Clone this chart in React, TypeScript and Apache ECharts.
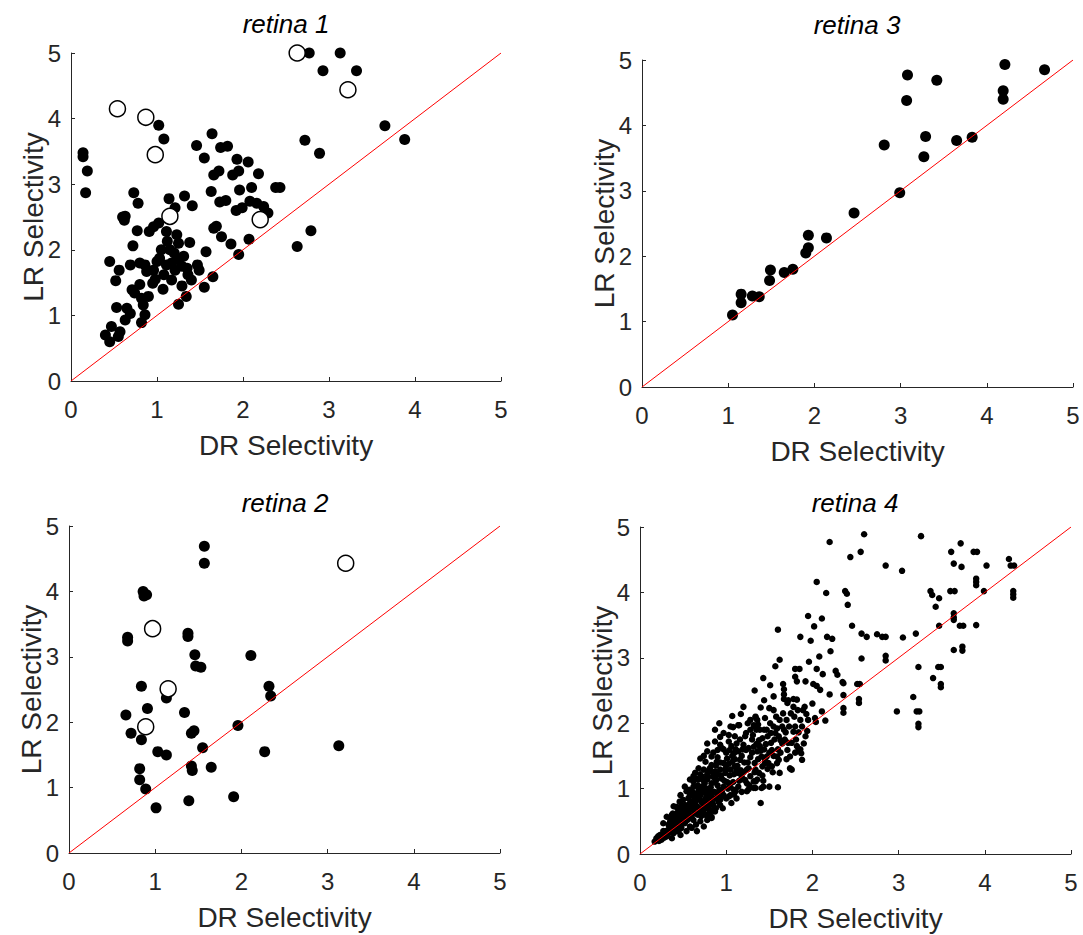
import React, { useEffect, useRef } from "react";
import * as echarts from "echarts";

// ---------- data ----------
const tickValues = [0, 1, 2, 3, 4, 5];
const diagonal = [[0, 0], [5, 5]];
const panelTitles = ["retina 1", "retina 3", "retina 2", "retina 4"];
const xName = "DR Selectivity";
const yName = "LR Selectivity";

const retina1Filled = [
  [2.77,5.0],[3.13,5.0],[2.93,4.73],[3.32,4.73],[3.65,3.89],[3.88,3.68],[2.72,3.67],[2.89,3.47],[2.43,2.95],[2.79,2.29],[2.63,2.05],
  [0.14,3.48],[0.14,3.42],[0.19,3.2],[0.17,2.87],[1.02,3.9],[1.08,3.69],[1.46,3.59],[1.64,3.77],[1.55,3.40],[1.74,3.56],[1.82,3.58],
  [1.93,3.38],[2.06,3.34],[1.66,3.14],[1.72,3.2],[1.88,3.14],[1.95,3.2],[2.18,3.16],[2.38,2.95],[2.10,2.95],[1.96,2.91],[1.63,2.89],
  [1.73,2.73],[1.80,2.75],[1.92,2.60],[1.99,2.64],[2.08,2.74],[2.16,2.71],[2.24,2.66],[2.29,2.56],[0.73,2.87],[0.78,2.71],[1.14,2.78],
  [1.21,2.64],[1.32,2.82],[1.41,2.67],[0.63,2.51],[0.60,2.50],[0.62,2.45],[0.77,2.29],[0.91,2.28],[1.02,2.41],[0.96,2.35],[1.11,2.28],
  [1.12,2.13],[1.23,2.23],[1.25,2.10],[1.38,2.11],[1.66,2.33],[1.69,2.36],[1.75,2.20],[1.86,2.09],[2.07,2.16],[1.95,1.93],[1.57,1.97],
  [0.72,2.06],[0.45,1.82],[0.56,1.69],[0.52,1.53],[0.69,1.77],[0.80,1.80],[0.86,1.77],[0.88,1.67],[0.96,1.69],[1.00,1.82],[1.03,1.87],
  [1.11,1.77],[1.17,1.80],[1.21,1.69],[1.25,1.85],[1.31,1.90],[1.29,1.75],[1.35,1.72],[1.36,1.62],[1.40,1.54],[1.47,1.77],[1.49,1.69],
  [1.65,1.59],[1.55,1.43],[1.17,1.54],[1.07,1.40],[1.29,1.45],[1.34,1.29],[1.25,1.17],[0.95,1.49],[0.71,1.39],[0.74,1.34],[0.80,1.47],
  [0.82,1.26],[0.84,1.16],[0.90,1.29],[0.53,1.12],[0.65,1.11],[0.69,1.03],[0.63,0.93],[0.86,1.01],[0.82,0.89],[0.40,0.70],[0.47,0.83],
  [0.45,0.60],[0.57,0.75],[0.55,0.68],[1.05,2.0],[1.15,2.0],[1.2,1.95],[1.08,1.62],[0.98,1.55]
];
const retina1Open = [[0.54,4.15],[0.87,4.02],[0.98,3.45],[1.15,2.51],[2.2,2.46],[2.63,5.0],[3.22,4.44]];

const retina3Filled = [
  [1.05,1.10],[1.15,1.42],[1.15,1.29],[1.28,1.39],[1.36,1.38],[1.49,1.79],[1.48,1.63],[1.65,1.75],[1.75,1.80],[1.93,2.32],[1.93,2.13],
  [1.90,2.05],[2.14,2.28],[2.46,2.66],[2.81,3.70],[2.99,2.97],[3.08,4.77],[3.07,4.38],[3.42,4.69],[3.29,3.83],[3.27,3.52],[3.65,3.77],
  [3.83,3.82],[4.21,4.93],[4.19,4.53],[4.19,4.40],[4.67,4.85]
];

const retina2Filled = [
  [1.57,4.69],[1.57,4.43],[0.86,4.0],[0.90,3.95],[0.87,3.93],[0.68,3.30],[0.68,3.24],[1.38,3.36],[1.38,3.31],[1.46,3.03],[1.47,2.86],
  [1.53,2.84],[2.11,3.02],[2.32,2.55],[0.84,2.55],[1.13,2.37],[2.34,2.40],[0.91,2.21],[0.66,2.11],[1.34,2.15],[0.72,1.83],[0.84,1.73],
  [1.42,1.83],[1.45,1.87],[1.96,1.95],[1.55,1.61],[1.03,1.55],[1.13,1.50],[2.27,1.55],[0.82,1.29],[0.82,1.12],[1.42,1.33],[1.43,1.26],
  [1.65,1.31],[0.89,0.98],[1.01,0.69],[1.39,0.80],[1.91,0.86],[3.13,1.64]
];
const retina2Open = [[0.97,3.43],[1.15,2.51],[0.89,1.93],[3.21,4.43]];

const retina4Filled = [
  [2.60,4.89],[3.26,4.86],[2.56,4.62],[2.44,4.54],[2.85,4.41],[3.04,4.33],[3.72,4.75],[3.61,4.62],[3.87,4.62],[3.91,4.62],[3.64,4.44],
  [3.73,4.39],[4.02,4.41],[4.28,4.51],[4.30,4.41],[4.34,4.41],[3.90,4.21],[3.90,4.16],[3.90,4.11],[3.37,4.02],[3.39,3.96],[3.47,3.91],
  [3.43,3.78],[3.60,4.02],[3.65,4.02],[3.99,4.02],[4.33,4.02],[4.33,3.97],[4.33,3.92],[3.64,3.68],[3.64,3.62],[3.64,3.58],[3.47,3.49],
  [3.71,3.49],[3.75,3.49],[3.90,3.50],[2.46,3.49],[2.57,3.37],[2.63,3.32],[2.75,3.36],[2.81,3.32],[2.85,3.32],[3.05,3.31],[3.20,3.37],
  [3.64,3.12],[3.74,3.17],[3.74,3.11],[2.57,2.99],[2.85,3.03],[2.85,2.96],[3.23,2.86],[3.46,2.86],[3.49,2.86],[3.40,2.69],[3.49,2.60],
  [3.49,2.55],[2.52,2.60],[2.55,2.60],[2.54,2.37],[2.54,2.31],[3.17,2.40],[2.98,2.18],[3.21,2.18],[3.24,2.18],[3.23,1.99],[3.23,1.94],
  [2.20,4.77],[2.05,4.16],[2.16,3.99],[2.38,4.02],[2.40,3.98],[2.41,3.81],[1.95,3.64],[2.11,3.60],[2.02,3.48],[1.86,3.32],[1.98,3.26],
  [2.17,3.32],[2.23,3.29],[2.21,3.10],[1.60,3.43],[2.08,3.02],[1.96,2.94],[1.62,2.97],[1.57,2.87],[1.80,2.83],[1.85,2.83],[2.05,2.83],
  [2.12,2.75],[2.27,2.80],[2.29,2.74],[2.35,2.63],[2.36,2.61],[1.80,2.71],[1.82,2.64],[1.92,2.64],[2.01,2.60],[2.05,2.57],[2.09,2.51],
  [2.20,2.44],[2.36,2.43],[2.36,2.23],[2.36,2.16],[2.11,2.18],[2.15,2.04],[2.03,2.08],[2.04,2.02],[1.89,2.20],[1.93,2.14],[1.78,2.37],
  [1.82,2.36],[1.72,2.35],[1.67,2.37],[1.71,2.31],[1.78,2.25],[1.55,2.41],[1.66,2.60],[1.67,2.52],[1.44,2.35],[1.50,2.23],[1.43,2.69],
  [1.33,2.50],[1.40,2.24],[1.51,2.58],[1.67,2.44],[0.92,2.00],[1.07,2.11],[1.17,2.14],[1.08,1.94],[1.14,1.97],[1.28,2.05],[1.34,2.09],
  [1.36,2.05],[1.33,1.95],[1.39,1.90],[1.47,1.90],[1.42,1.77],[1.51,2.00],[1.55,1.95],[1.59,1.92],[1.65,1.95],[1.67,1.90],[1.69,1.86],
  [1.78,1.87],[1.84,1.86],[1.90,1.69],[1.84,1.59],[1.87,1.54],[1.88,1.44],[1.82,1.65],[1.86,1.60],[1.63,1.74],[1.65,1.69],[1.71,1.59],
  [1.74,1.49],[1.74,1.31],[1.76,1.29],[1.59,1.49],[1.59,1.39],[1.61,1.44],[1.62,1.24],[1.60,1.02],[1.50,1.03],[1.43,1.12],[1.43,1.03],
  [1.40,0.78],[1.32,1.11],[1.34,1.01],[1.26,0.99],[1.24,0.96],[1.24,1.08],[1.14,1.24],[1.18,1.18],[1.22,1.13],[1.26,1.31],[1.33,1.39],
  [1.34,1.29],[1.38,1.24],[1.42,1.34],[1.45,1.44],[1.47,1.49],[1.49,1.39],[1.53,1.59],[1.53,1.34],[1.11,0.96],[1.09,0.91],[1.03,0.88],
  [0.91,0.80],[0.93,0.75],[0.81,0.65],[0.83,0.57],[0.78,0.58],
  [1.15,1.97],[1.05,1.95],[0.78,1.69],[0.87,1.72],[0.93,1.67],[0.90,1.59],[0.97,1.60],[1.03,1.72],[1.04,1.59],[1.09,1.54],[1.12,1.69],
  [1.14,1.57],[1.20,1.67],[1.23,1.59],[1.16,1.44],[1.07,1.41],[1.01,1.46],[0.97,1.39],[0.89,1.41],[0.83,1.36],[0.76,1.41],[0.74,1.29],
  [0.81,1.31],[0.87,1.26],[0.93,1.29],[0.99,1.24],[1.05,1.29],[1.10,1.34],[1.34,2.10],[1.32,1.97],[1.28,1.90],[1.35,1.90],[1.38,1.74],
  [1.32,1.64],[1.36,1.57],[1.41,1.49],[1.45,1.39],[1.24,1.29],[1.28,1.19],[1.34,1.11],[1.32,1.01],[1.41,1.01],[1.36,1.14],[1.20,1.14],
  [1.14,1.03],[1.09,0.98],[1.05,0.90],[1.03,1.08],[0.97,1.03],[0.64,1.24],[0.58,1.14],[0.68,1.14],[0.62,1.03],[0.72,1.03],[0.78,1.14],
  [0.83,1.08],[0.89,1.14],[0.79,0.98],[0.70,0.90],[0.76,0.85],[0.83,0.88],[0.89,0.93],[0.93,0.83],[0.85,0.75],[0.78,0.73],[0.72,0.78],
  [0.64,0.83],[0.58,0.90],[0.54,0.96],[0.50,0.83],[0.56,0.75],[0.62,0.68],[0.68,0.63],[0.76,0.60],[0.81,0.63],[0.78,0.52],[0.70,0.50],
  [0.62,0.52],[0.56,0.57],[0.50,0.63],[0.45,0.68],[0.39,0.73],[0.47,0.52],[0.52,0.47],[0.58,0.42],[0.48,0.40],[0.41,0.42],[0.35,0.50],
  [0.31,0.57],[0.27,0.47],[0.33,0.37],[0.39,0.32],[0.29,0.32],[0.23,0.29],[0.19,0.24],[0.25,0.22],[0.17,0.19],[0.31,0.27],[0.43,0.35],
  [0.54,0.35],[0.60,0.40],[0.47,0.29],[0.37,0.24],[0.83,1.49],[0.78,1.57],[0.70,1.46],[0.68,1.31],[0.62,1.19],[1.03,1.82],[0.93,1.79],
  [0.21,0.27],[0.27,0.35],[0.34,0.42],[0.43,0.47],[0.48,0.57],[0.37,0.60],[0.43,0.63],[0.54,0.70],[0.48,0.75],[0.60,0.80],[0.66,0.73],
  [0.74,0.68],[0.68,0.98],[0.76,0.93],[0.62,1.11],[0.52,1.03],[0.47,0.90],[0.81,0.83],[0.87,0.65],[0.83,0.55],[0.74,0.42],[0.66,0.35],
  [0.20,0.22],[0.22,0.20],[0.24,0.26],[0.26,0.30],[0.28,0.25],[0.30,0.35],[0.32,0.30],[0.33,0.45],[0.35,0.38],[0.36,0.33],[0.38,0.45],
  [0.40,0.38],[0.40,0.52],[0.42,0.55],[0.44,0.44],[0.45,0.60],[0.46,0.38],[0.49,0.48],[0.50,0.70],[0.51,0.56],[0.53,0.62],[0.55,0.52],
  [0.56,0.85],[0.57,0.66],[0.59,0.58],[0.60,0.72],[0.61,0.95],[0.63,0.62],[0.64,0.78],[0.65,0.45],[0.66,0.88],[0.67,1.05],[0.69,0.70],
  [0.70,0.82],[0.71,0.58],[0.72,1.18],[0.73,0.95],[0.75,0.72],[0.75,1.08],[0.77,0.80],[0.78,1.22],[0.79,0.90],[0.80,0.68],[0.82,1.02],
  [0.84,0.78],[0.85,1.18],[0.86,0.95],[0.88,0.70],[0.88,1.35],[0.90,1.05],[0.91,0.88],[0.94,1.20],[0.95,0.95],[0.96,0.70],[0.98,1.12],
  [1.00,0.85],[1.00,1.35],[1.02,1.00],[1.04,1.20],[1.06,0.78],[1.08,1.10],[1.10,1.45],[1.12,0.85],[1.12,1.28],[1.15,1.12],[1.18,1.50],
  [1.18,0.95],[1.20,1.25],[1.22,1.80],[1.25,1.40],[1.27,1.05],[1.30,1.55],[1.30,1.75],[1.37,1.45],[1.39,1.65],[1.44,1.60],[1.48,1.80],
  [1.52,1.70],[1.55,1.50],[1.57,1.85],[1.60,1.60],[1.62,2.05],[1.70,2.05],[1.72,1.70],[1.75,2.15],[1.80,1.55],[1.80,1.95],[1.86,2.05],
  [1.92,1.80],[1.95,2.05],[2.00,2.30],[0.35,0.55],[0.38,0.62],[0.42,0.72],[0.46,0.80],[0.52,0.75],[0.57,0.98],[0.62,0.88],[0.66,1.15],
  [0.70,1.22],[0.74,1.50],[0.80,1.28],[0.85,1.55],[0.90,1.48],[0.95,1.62],[1.00,1.55],[1.06,1.65],[1.10,1.80],[0.97,1.85],[0.87,1.90],
  [1.25,2.00],[1.20,2.25],[1.45,2.08],[1.55,2.20],
  [0.55,0.62],[0.58,0.78],[0.60,0.55],[0.63,0.70],[0.65,0.92],[0.67,0.60],[0.69,0.85],[0.71,0.98],[0.73,0.66],[0.74,1.12],[0.76,0.77],
  [0.77,1.00],[0.79,1.18],[0.80,0.75],[0.82,0.95],[0.84,1.25],[0.85,0.68],[0.87,1.10],[0.88,0.85],[0.90,1.22],[0.92,0.98],[0.93,1.40],
  [0.95,1.15],[0.97,0.90],[0.99,1.30],[1.01,1.10],[1.03,1.38],[1.05,1.02],[1.07,1.50],[1.09,1.22],[1.11,1.60],[1.13,1.35],[1.16,1.75],
  [1.17,1.28],[1.19,1.60],[1.21,1.40],[1.23,1.85],[1.26,1.62],[1.28,1.48],[1.31,1.82],[1.33,1.25],[1.35,1.68],[1.37,1.98],[1.40,1.58],
  [1.42,1.20],[1.44,1.90],[1.46,1.68],[1.48,1.30],[1.50,1.55],[1.52,1.85],[1.54,1.25],[1.56,1.75],[1.58,2.10],[1.61,1.80],[1.63,1.55],
  [1.66,2.15],[1.68,1.75],[1.70,1.45],[1.73,1.95],[1.76,1.70],[1.79,2.10],[1.81,1.75],[1.83,2.20],[1.88,1.95],[1.91,2.25],[1.94,1.88]
];

// ---------- layout ----------
const grids = [
  { left: 71, top: 53, width: 430, height: 328 },
  { left: 642, top: 60, width: 431, height: 327 },
  { left: 69, top: 526, width: 431, height: 327 },
  { left: 640, top: 527, width: 431, height: 327 },
];
const titlePos = [[286, 24], [857, 25], [285, 503], [855, 503]];

const FONT = '"Liberation Sans", Arial, Helvetica, sans-serif';
const AX = "#262626";

function axisCommon(isX: boolean) {
  return {
    type: "value",
    min: 0,
    max: 5,
    interval: 1,
    name: isX ? xName : yName,
    nameLocation: "middle",
    nameGap: isX ? 50 : 24,
    nameMoveOverlap: false,
    nameTextStyle: { fontFamily: FONT, fontSize: 28, color: AX },
    axisLine: { show: true, onZero: false, lineStyle: { color: AX, width: 1 } },
    axisTick: { show: true, inside: true, length: 4, lineStyle: { color: AX, width: 1 } },
    axisLabel: {
      fontFamily: FONT,
      fontSize: 24,
      color: AX,
      margin: isX ? 16 : 10,
      formatter: (v: number) => (tickValues.includes(v) ? String(v) : ""),
    },
    splitLine: { show: false },
  };
}

export default function App() {
  const ref = useRef<HTMLDivElement>(null);
  useEffect(() => {
    document.body.style.margin = "0";
    const chart = echarts.init(ref.current!, undefined, { renderer: "svg" });
    const filledSets = [retina1Filled, retina3Filled, retina2Filled, retina4Filled];
    const openSets = [retina1Open, null, retina2Open, null];
    const dotSizes = [11, 11, 11, 6.5];
    const series: any[] = [];
    filledSets.forEach((d, i) => {
      series.push({
        type: "scatter",
        xAxisIndex: i,
        yAxisIndex: i,
        data: d,
        symbol: "circle",
        symbolSize: dotSizes[i],
        itemStyle: { color: "#000", opacity: 1 },
        z: 2,
      });
      const o = openSets[i];
      if (o) {
        series.push({
          type: "scatter",
          xAxisIndex: i,
          yAxisIndex: i,
          data: o,
          symbol: "circle",
          symbolSize: 16,
          itemStyle: { color: "#fff", borderColor: "#000", borderWidth: 1.5, opacity: 1 },
          z: 3,
        });
      }
      series.push({
        type: "line",
        xAxisIndex: i,
        yAxisIndex: i,
        data: diagonal,
        symbol: "none",
        lineStyle: { color: "#ff0000", width: 1 },
        z: 4,
      });
    });
    chart.setOption({
      animation: false,
      backgroundColor: "#fff",
      grid: grids.map((g) => ({ ...g, containLabel: false })),
      xAxis: grids.map((_, i) => ({ ...axisCommon(true), gridIndex: i })),
      yAxis: grids.map((_, i) => ({ ...axisCommon(false), gridIndex: i })),
      series,
      graphic: panelTitles.map((t, i) => ({
        type: "text",
        x: titlePos[i][0],
        y: titlePos[i][1],
        style: {
          text: t,
          font: `italic 26px ${FONT}`,
          fill: "#000",
          textAlign: "center",
          textVerticalAlign: "middle",
        },
      })),
    });
    return () => chart.dispose();
  }, []);
  return <div ref={ref} style={{ width: 1083, height: 935 }} />;
}
